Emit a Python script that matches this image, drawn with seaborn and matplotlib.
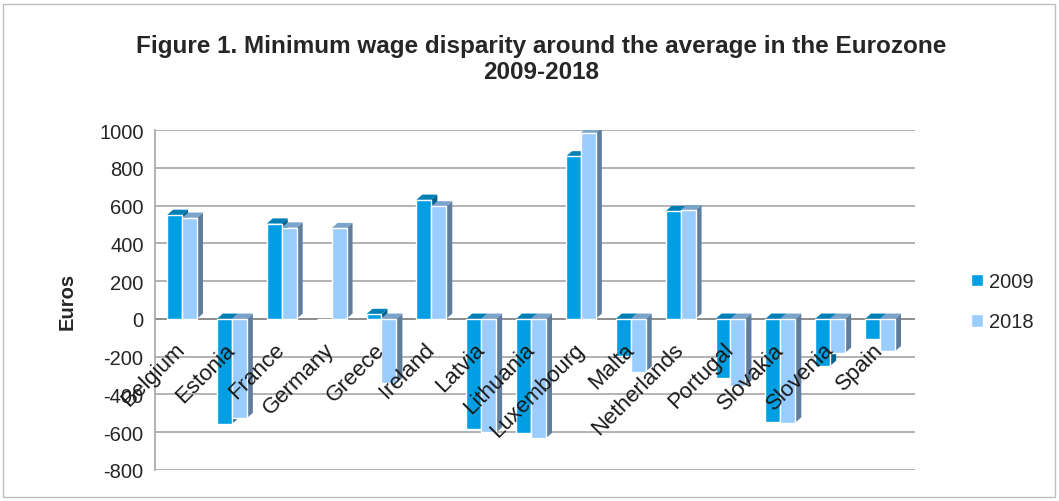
import matplotlib
matplotlib.use("Agg")
import matplotlib.pyplot as plt
import seaborn as sns
import pandas as pd
import numpy as np
from matplotlib.patches import Polygon, Rectangle
import matplotlib.colors as mcolors

countries = ["Belgium", "Estonia", "France", "Germany", "Greece", "Ireland", "Latvia",
             "Lithuania", "Luxembourg", "Malta", "Netherlands", "Portugal", "Slovakia",
             "Slovenia", "Spain"]
values_2009 = [550, -556, 504, 0, 25, 630, -584, -605, 860, -195, 570, -313, -545, -249, -106]
values_2018 = [535, -526, 483, 480, -340, 595, -602, -632, 985, -280, 575, -355, -550, -180, -172]
years = ["2009", "2018"]
yticks = list(range(-800, 1001, 200))

df = pd.DataFrame({
    "Country": countries * 2,
    "Year": [years[0]] * len(countries) + [years[1]] * len(countries),
    "Euros": values_2009 + values_2018,
})

sns.set_style("white")
plt.rcParams["font.family"] = ["Liberation Sans", "DejaVu Sans"]

palette = {"2009": "#009FE3", "2018": "#99CCFF"}

fig = plt.figure(figsize=(10.59, 5.02), dpi=100)
ax = fig.add_axes([0.146, 0.062, 0.718, 0.677])

sns.barplot(data=df, x="Country", y="Euros", hue="Year", palette=palette,
            width=0.6, ax=ax, legend=True, saturation=1)

ax.set_ylim(-800, 1000)
ax.set_xlim(-0.55, 14.7)
ax.set_yticks(yticks)
ax.set_yticklabels([str(v) for v in yticks], fontsize=14.5)
ax.tick_params(axis="y", length=0, pad=8)
ax.yaxis.grid(True, color="#a6a6a6", linewidth=1.2)
ax.set_axisbelow(True)
for s in ["top", "right", "bottom"]:
    ax.spines[s].set_visible(False)
ax.spines["left"].set_color("#a6a6a6")
ax.spines["left"].set_linewidth(1.2)
ax.axhline(0, color="#8c8c8c", linewidth=1.3, zorder=0.8)

# 3D-like side and top faces derived from the drawn bars
dx, dy = 0.12, 28
for p in list(ax.patches):
    w = p.get_width(); h = p.get_height()
    if w == 0 or h == 0:
        continue
    x0 = p.get_x(); y0 = p.get_y()
    fc = np.array(mcolors.to_rgb(p.get_facecolor()))
    side = fc * 0.62
    top = fc * 0.8
    x1 = x0 + w
    ylo, yhi = min(y0, y0 + h), max(y0, y0 + h)
    ax.add_patch(Polygon([(x1, ylo), (x1 + dx, ylo + dy), (x1 + dx, yhi + dy), (x1, yhi)],
                         closed=True, facecolor=side, edgecolor="none", zorder=0.9))
    ax.add_patch(Polygon([(x0, yhi), (x0 + dx, yhi + dy), (x1 + dx, yhi + dy), (x1, yhi)],
                         closed=True, facecolor=top, edgecolor="none", zorder=0.9))

# category labels rotated at the zero line
ax.set_xticks(range(len(countries)))
ax.set_xticklabels([])
ax.tick_params(axis="x", length=0)
for i, c in enumerate(countries):
    ax.text(i - 0.15, -105, c, rotation=45, rotation_mode="anchor", ha="right", va="top",
            fontsize=16, color="#1a1a1a", zorder=5)

ax.set_xlabel("")
ax.set_ylabel("Euros", fontsize=14.5, fontweight="bold", labelpad=16)

leg = ax.legend(loc="center left", bbox_to_anchor=(1.05, 0.495), frameon=False,
                fontsize=14.5, handlelength=0.6, handleheight=0.6, handletextpad=0.3,
                labelspacing=1.05)

fig.text(0.511, 0.908, "Figure 1. Minimum wage disparity around the average in the Eurozone",
         ha="center", va="center", fontsize=17.5, fontweight="bold")
fig.text(0.511, 0.855, "2009-2018", ha="center", va="center", fontsize=17.5, fontweight="bold")

fig.add_artist(Rectangle((0.003, 0.008), 0.993, 0.982, transform=fig.transFigure,
                         fill=False, edgecolor="#bfbfbf", linewidth=1))

fig.savefig("out.png", dpi=100)
